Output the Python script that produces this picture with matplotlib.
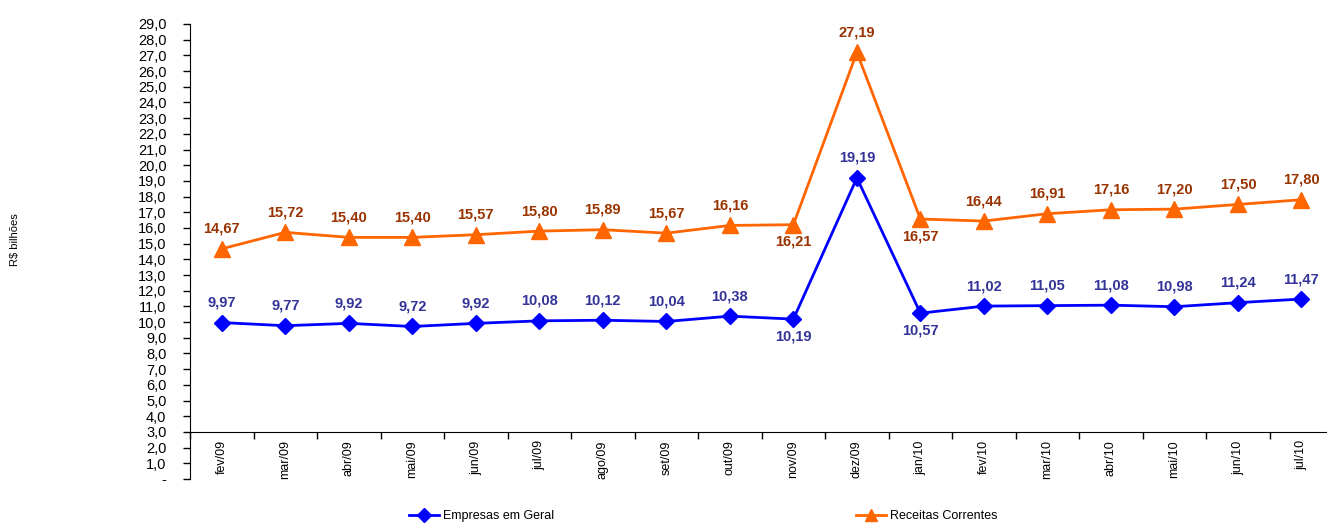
import matplotlib
matplotlib.use("Agg")
import matplotlib.pyplot as plt
from matplotlib.lines import Line2D

plt.rcParams['font.family'] = ['Liberation Sans', 'DejaVu Sans']

meses = ["fev/09", "mar/09", "abr/09", "mai/09", "jun/09", "jul/09", "ago/09", "set/09",
         "out/09", "nov/09", "dez/09", "jan/10", "fev/10", "mar/10", "abr/10", "mai/10",
         "jun/10", "jul/10"]
empresas = [9.97, 9.77, 9.92, 9.72, 9.92, 10.08, 10.12, 10.04, 10.38, 10.19, 19.19, 10.57,
            11.02, 11.05, 11.08, 10.98, 11.24, 11.47]
receitas = [14.67, 15.72, 15.40, 15.40, 15.57, 15.80, 15.89, 15.67, 16.16, 16.21, 27.19, 16.57,
            16.44, 16.91, 17.16, 17.20, 17.50, 17.80]
below_idx = [9, 11]
yticks = list(range(0, 30))

blue = "#0000FF"
orange = "#FF6600"
blue_lbl = "#333399"
orange_lbl = "#993300"

fig = plt.figure(figsize=(13.27, 5.23), dpi=100)
ax = fig.add_axes([190/1327, 44/523, (1327-190)/1327, 455/523])

x = list(range(len(meses)))
ax.plot(x, empresas, color=blue, lw=2, marker='D', ms=8.5, zorder=3)
ax.plot(x, receitas, color=orange, lw=2, marker='^', ms=11, zorder=3)

def fmt(v):
    return f"{v:.2f}".replace(".", ",")

for i, (e, r) in enumerate(zip(empresas, receitas)):
    off = -17 if i in below_idx else 20
    ax.annotate(fmt(e), (i, e), xytext=(0, off), textcoords='offset pixels',
                ha='center', va='center', color=blue_lbl, fontsize=10.5, fontweight='bold')
    ax.annotate(fmt(r), (i, r), xytext=(0, off), textcoords='offset pixels',
                ha='center', va='center', color=orange_lbl, fontsize=10.5, fontweight='bold')

ax.set_xlim(-0.5, (1327-222)/63.5)
ax.set_ylim(0, 29)

for s in ['top', 'right']:
    ax.spines[s].set_visible(False)
ax.spines['bottom'].set_position(('data', 3))
ax.spines['left'].set_bounds(0, 29)

ax.set_yticks(yticks)
ax.set_yticklabels(["-" if v == 0 else f"{v},0" for v in yticks], fontsize=10.5)
ax.tick_params(axis='y', direction='out', length=5, width=1, pad=12)

ax.set_xticks(x)
ax.set_xticklabels(meses, rotation=90, fontsize=9, va='top')
ax.set_xticks([i + 0.5 for i in x[:-1]] + [-0.5], minor=True)
ax.tick_params(axis='x', which='major', length=0, pad=6)
ax.tick_params(axis='x', which='minor', direction='out', length=5, width=1)

fig.text(15/1327, 1 - 240/523, "R$ bilhões", rotation=90, ha='center', va='center', fontsize=8)

h1 = Line2D([], [], color=blue, lw=2, marker='D', ms=7)
h2 = Line2D([], [], color=orange, lw=2, marker='^', ms=9)
fig.legend([h1], ["Empresas em Geral"], loc='center left', bbox_to_anchor=(404/1327, 1 - 516/523),
           frameon=False, fontsize=9, handlelength=2.4, handletextpad=0.3, borderaxespad=0)
fig.legend([h2], ["Receitas Correntes"], loc='center left', bbox_to_anchor=(851/1327, 1 - 516/523),
           frameon=False, fontsize=9, handlelength=2.4, handletextpad=0.3, borderaxespad=0)

fig.savefig("out.png", dpi=100)
